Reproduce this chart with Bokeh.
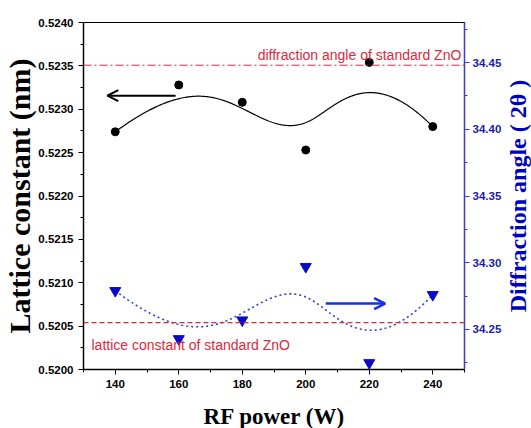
import math
import numpy as np
from bokeh.plotting import figure
from bokeh.layouts import row, column
from bokeh.models import (Range1d, LinearAxis, Span, Arrow, OpenHead, Label, Title,
                          FixedTicker, NumeralTickFormatter)
from bokeh.embed import file_html
from bokeh.resources import INLINE

# ---- data ----
rf_power = [140, 160, 180, 200, 220, 240]
lattice_constant = [0.52274, 0.52328, 0.52308, 0.52253, 0.52354, 0.52280]
diffraction_angle = [34.279, 34.243, 34.257, 34.297, 34.225, 34.276]
std_lattice = 0.52054
std_angle = 34.448
left_ticks = [0.5200, 0.5205, 0.5210, 0.5215, 0.5220, 0.5225, 0.5230, 0.5235, 0.5240]
right_ticks = [34.25, 34.30, 34.35, 34.40, 34.45]
x_ticks = [140, 160, 180, 200, 220, 240]


def bspline(xs, ys, n=300, k=3):
    """Clamped cubic B-spline on the data points (Origin 'B-Spline' connect)."""
    P = np.column_stack([xs, ys]).astype(float)
    m = len(P)
    inner = np.linspace(0, 1, m - k + 1)
    knots = np.concatenate([[0.0] * k, inner, [1.0] * k])
    t = np.linspace(0, 1, n)

    def N(i, p):
        if p == 0:
            res = ((knots[i] <= t) & (t < knots[i + 1])).astype(float)
            if knots[i + 1] == 1.0 and knots[i] < 1.0:
                res[t == 1.0] = 1.0
            return res
        out = np.zeros_like(t)
        d1 = knots[i + p] - knots[i]
        if d1 > 0:
            out += (t - knots[i]) / d1 * N(i, p - 1)
        d2 = knots[i + p + 1] - knots[i + 1]
        if d2 > 0:
            out += (knots[i + p + 1] - t) / d2 * N(i + 1, p - 1)
        return out

    B = np.array([N(i, k) for i in range(m)])
    C = B.T @ P
    return C[:, 0], C[:, 1]


RED = "#e0283c"
BLUE = "#0a0ac8"
MAIN_W, MAIN_H = 504, 397
SIDE_W, BOTTOM_H = 27, 31

p = figure(width=MAIN_W, height=MAIN_H, x_range=Range1d(130, 250),
           y_range=Range1d(0.5200, 0.5240),
           output_backend="svg", toolbar_location=None,
           min_border_left=82, min_border_right=38,
           min_border_top=22, min_border_bottom=28)
p.extra_y_ranges = {"right": Range1d(34.22, 34.48)}
p.grid.visible = False
p.outline_line_color = "black"
p.outline_line_width = 1.2
p.background_fill_color = "white"


def style_axis(ax, color, label_color):
    ax.axis_line_color = color
    ax.axis_line_width = 1.3
    ax.major_tick_line_color = color
    ax.minor_tick_line_color = color
    ax.major_tick_out = 5
    ax.major_tick_in = 0
    ax.minor_tick_out = 3
    ax.minor_tick_in = 0
    ax.major_label_text_font = "Liberation Sans"
    ax.major_label_text_font_style = "bold"
    ax.major_label_text_font_size = "11.5px"
    ax.major_label_text_color = label_color
    ax.major_label_standoff = 5


xa = p.xaxis[0]
style_axis(xa, "black", "black")
xa.ticker = FixedTicker(ticks=x_ticks, minor_ticks=list(range(130, 251, 10)))
xa.formatter = NumeralTickFormatter(format="0")

ya = p.yaxis[0]
style_axis(ya, "black", "black")
ya.ticker = FixedTicker(ticks=left_ticks,
                        minor_ticks=[0.5200 + 0.00025 * i for i in range(17)])
ya.formatter = NumeralTickFormatter(format="0.0000")

right_axis = LinearAxis(y_range_name="right")
style_axis(right_axis, "#3c3cdc", "#1c1ca8")
right_axis.ticker = FixedTicker(ticks=right_ticks,
                                minor_ticks=[34.225 + 0.05 * i for i in range(6)])
right_axis.formatter = NumeralTickFormatter(format="0.00")
right_axis.major_label_standoff = 3
p.add_layout(right_axis, "right")

# left axis title
p.add_layout(Title(text="Lattice constant (nm)", align="center",
                   text_font="Liberation Serif", text_font_style="bold",
                   text_font_size="30px", text_color="black",
                   standoff=0, offset=0), "left")

# reference lines
p.add_layout(Span(location=std_angle, dimension="width", y_range_name="right",
                  line_color=RED, line_width=1, line_dash="8 3 2 3"))
p.add_layout(Span(location=std_lattice, dimension="width",
                  line_color=RED, line_width=1.2, line_dash="5 3"))

# curves
bx, by = bspline(rf_power, lattice_constant)
p.line(bx, by, line_color="black", line_width=1.2)
dx, dy = bspline(rf_power, diffraction_angle)
p.line(dx, dy, line_color="#3040d0", line_width=1.6, line_dash="2 3",
       y_range_name="right")

# markers
p.scatter(rf_power, lattice_constant, marker="circle", size=8,
          fill_color="black", line_color="black")
p.scatter(rf_power, diffraction_angle, marker="inverted_triangle", size=11,
          fill_color=BLUE, line_color=BLUE, y_range_name="right")

# arrows
p.add_layout(Arrow(x_start=159, y_start=0.523156, x_end=137.5, y_end=0.523156,
                   line_color="black", line_width=2,
                   end=OpenHead(size=11, line_width=2, line_color="black")))
p.add_layout(Arrow(x_start=206.3, y_start=0.52076, x_end=225, y_end=0.52076,
                   line_color="#1530e0", line_width=2.5,
                   end=OpenHead(size=11, line_width=2.5, line_color="#1530e0")))

# annotation texts
p.add_layout(Label(x=249, y=315, x_units="data", y_units="screen",
                   text="diffraction angle of standard ZnO", text_align="right",
                   text_baseline="alphabetic", text_font="Liberation Sans",
                   text_font_size="14px", text_color=RED))
p.add_layout(Label(x=8, y=25, x_units="screen", y_units="screen",
                   text="lattice constant of standard ZnO", text_align="left",
                   text_baseline="alphabetic", text_font="Liberation Sans",
                   text_font_size="14px", text_color=RED))


def strip(width, height, top, bottom):
    f = figure(width=width, height=height, x_range=Range1d(0, 1), y_range=Range1d(0, 1),
               output_backend="svg", toolbar_location=None,
               x_axis_location=None, y_axis_location=None,
               min_border_left=0, min_border_right=0,
               min_border_top=top, min_border_bottom=bottom)
    f.grid.visible = False
    f.outline_line_color = None
    return f


# right-hand axis title, reading bottom to top
side = strip(SIDE_W, MAIN_H, 22, 28)
side.add_layout(Label(x=0.5, y=0.5, text="Diffraction angle ( 2θ )",
                      angle=math.pi / 2, text_align="center", text_baseline="middle",
                      text_font="Liberation Serif", text_font_style="bold",
                      text_font_size="24px", text_color="#0000c0"))

# x-axis title
bottom = strip(MAIN_W + SIDE_W, BOTTOM_H, 0, 0)
bottom.add_layout(Label(x=274, y=12, x_units="screen", y_units="screen",
                        text="RF power (W)", text_align="center", text_baseline="middle",
                        text_font="Liberation Serif", text_font_style="bold",
                        text_font_size="23px", text_color="black"))

layout = column(row(p, side, spacing=0), bottom, spacing=0)
open("out.html", "w").write(file_html(layout, INLINE))
